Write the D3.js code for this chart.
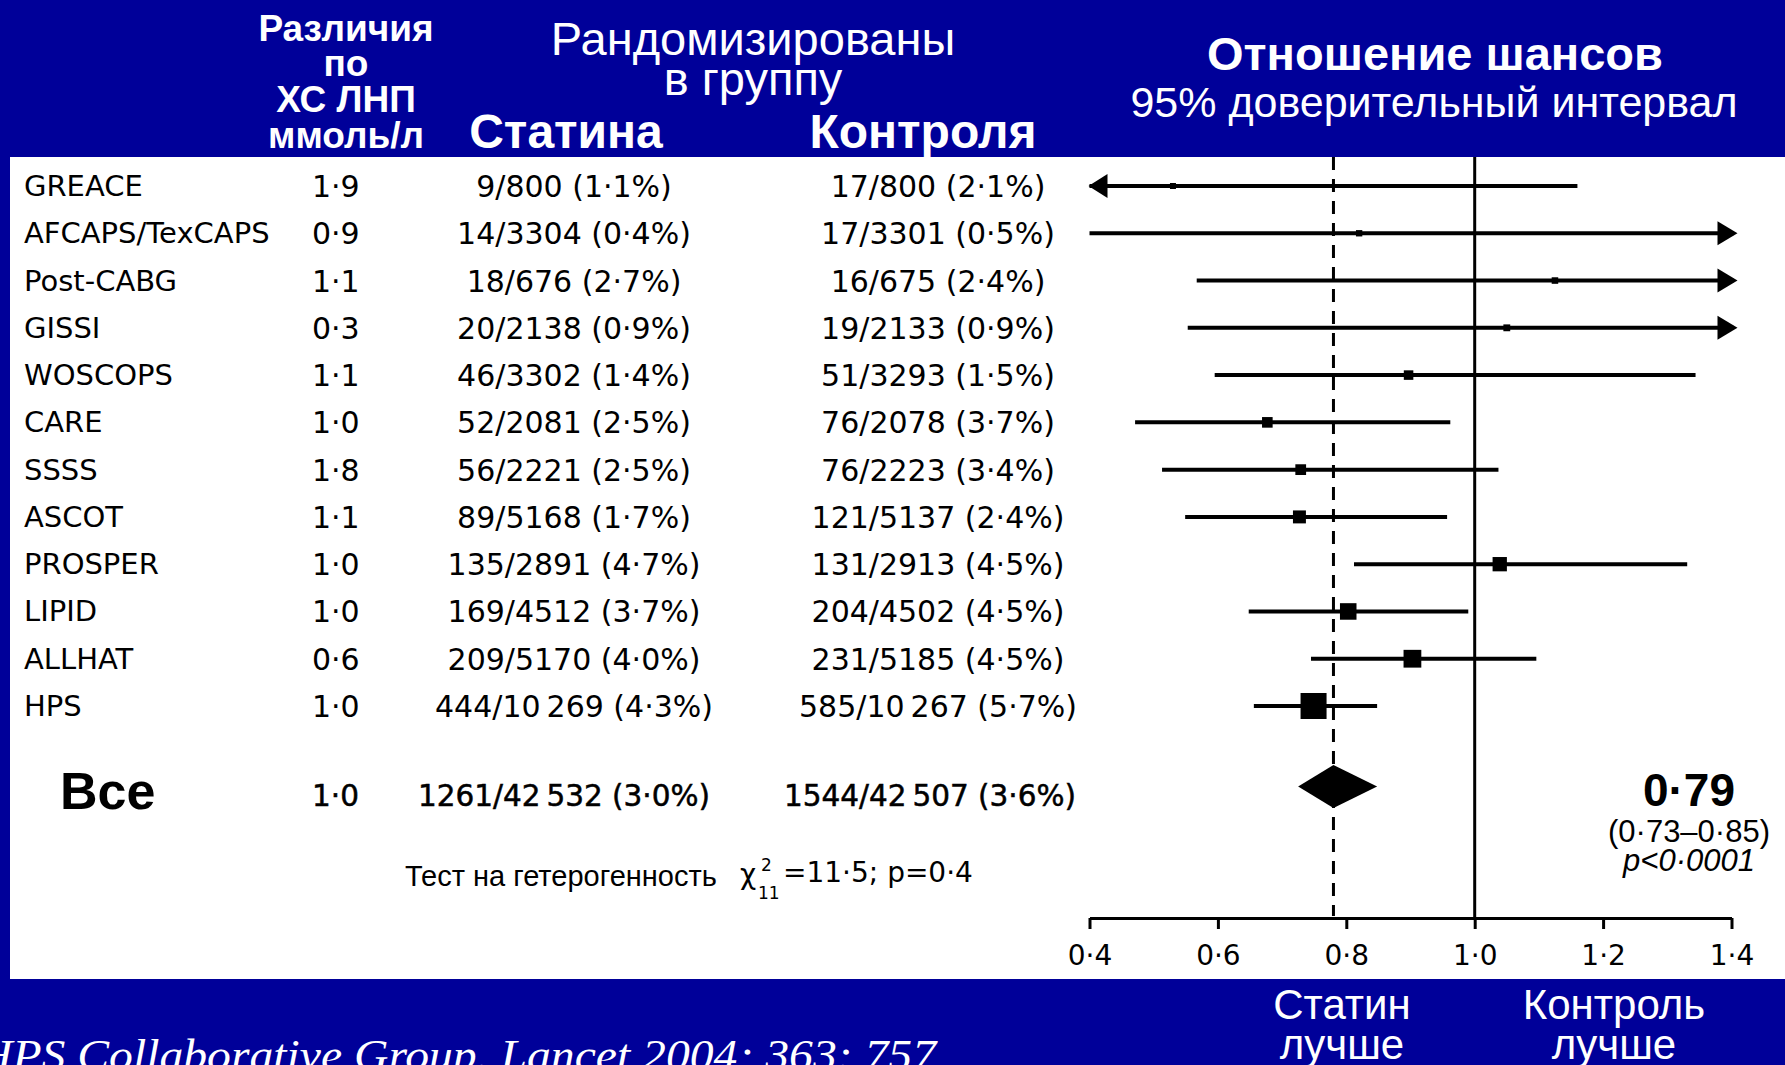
<!DOCTYPE html>
<html><head><meta charset="utf-8">
<script src="https://cdn.jsdelivr.net/npm/d3@7"></script>
<style>
html,body{margin:0;padding:0;background:#000099;}
svg{display:block;}
</style></head>
<body>
<svg id="chart" width="1785" height="1065"></svg>
<script>
// ---------------- data ----------------
const studies = ["GREACE","AFCAPS/TexCAPS","Post-CABG","GISSI","WOSCOPS","CARE","SSSS","ASCOT","PROSPER","LIPID","ALLHAT","HPS"];
const ldlDiff = [1.9,0.9,1.1,0.3,1.1,1.0,1.8,1.1,1.0,1.0,0.6,1.0];
const statinEvents = [9,14,18,20,46,52,56,89,135,169,209,444];
const statinTotal = [800,3304,676,2138,3302,2081,2221,5168,2891,4512,5170,10269];
const statinPct = [1.1,0.4,2.7,0.9,1.4,2.5,2.5,1.7,4.7,3.7,4.0,4.3];
const controlEvents = [17,17,16,19,51,76,76,121,131,204,231,585];
const controlTotal = [800,3301,675,2133,3293,2078,2223,5137,2913,4502,5185,10267];
const controlPct = [2.1,0.5,2.4,0.9,1.5,3.7,3.4,2.4,4.5,4.5,4.5,5.7];
const oddsRatio = [0.53,0.82,1.125,1.05,0.897,0.677,0.729,0.727,1.039,0.803,0.903,0.749];
const ciLow =  [0.25,0.40,0.567,0.553,0.595,0.471,0.513,0.549,0.812,0.648,0.745,0.656];
const ciHigh = [1.16,1.66,2.20,2.00,1.344,0.962,1.037,0.957,1.331,0.990,1.096,0.848];

const totalLabel = "Все";
const totalLdl = 1.0;
const totalStatin = [1261, 42532, 3.0];
const totalControl = [1544, 42507, 3.6];
const pooledOR = 0.78, pooledLow = 0.725, pooledHigh = 0.848;
const pooledText = ["0·79", "(0·73–0·85)", "p<0·0001"];

const axisTicks = [0.4,0.6,0.8,1.0,1.2,1.4];
const axisDomain = [0.4,1.4];

// ---------------- helpers ----------------
const BLUE = "#000099";
const dec = v => d3.format(".1f")(v).replace(".", "·");
const big = n => n >= 10000 ? String(n).slice(0, -3) + "\u2009" + String(n).slice(-3) : String(n);
const cell = (e, n, p) => `${big(e)}/${big(n)} (${dec(p)}%)`;

const svg = d3.select("#chart");
svg.append("rect").attr("width",1785).attr("height",1065).attr("fill",BLUE);
svg.append("rect").attr("x",10).attr("y",157).attr("width",1775).attr("height",822).attr("fill","#fff");

// scales
const x = d3.scaleLinear().domain(axisDomain).range([1089.5, 1731.5]);
const y = d3.scalePoint().domain(studies).range([186, 706]);
const yTotal = 786.5;
const panelTop = 157, axisY = 918;
const totals = studies.map((s,i) => statinEvents[i] + controlEvents[i]);
const size = d3.scaleSqrt().domain(d3.extent(totals)).range([6, 26]);

// ---------------- header ----------------
const hdr = svg.append("g").attr("fill","#fff");
const htext = (t, cx, by, fs, w, fam) => hdr.append("text").attr("x",cx).attr("y",by)
  .attr("text-anchor","middle").attr("font-size",fs).attr("font-weight",w||"normal")
  .attr("font-family", fam || "'Liberation Sans', Arial, sans-serif").text(t);
htext("Различия", 346, 41, 37, "bold");
htext("по", 346, 76, 37, "bold");
htext("ХС ЛНП", 346, 112, 37, "bold");
htext("ммоль/л", 346, 148, 37, "bold");
htext("Рандомизированы", 753, 55, 47);
htext("в группу", 753, 95, 47);
htext("Статина", 566, 148, 48, "bold");
htext("Контроля", 923, 148, 48, "bold");
htext("Отношение шансов", 1435, 70, 47, "bold");
htext("95% доверительный интервал", 1434, 117, 43);

// footer
htext("Статин", 1342, 1019, 42);
htext("лучше", 1342, 1059, 42);
htext("Контроль", 1614, 1019, 42);
htext("лучше", 1614, 1059, 42);
hdr.append("text").attr("x",-22).attr("y",1070)
  .attr("font-family","'Liberation Serif', 'Times New Roman', serif").attr("font-style","italic")
  .attr("font-size",44).attr("textLength",958).attr("lengthAdjust","spacingAndGlyphs")
  .text("HPS Collaborative Group. Lancet 2004; 363: 757");

// ---------------- table ----------------
const tbl = svg.append("g").attr("fill","#000").attr("font-family","'DejaVu Sans', sans-serif");
const rows = tbl.selectAll("g.row").data(studies).join("g").attr("class","row");
rows.append("text").attr("x",24).attr("y",d => y(d)+10).attr("font-size",29).text(d => d);
rows.append("text").attr("x",312).attr("y",d => y(d)+11).attr("font-size",30).text((d,i) => dec(ldlDiff[i]));
rows.append("text").attr("x",574).attr("y",d => y(d)+11).attr("font-size",30).attr("text-anchor","middle")
  .text((d,i) => cell(statinEvents[i], statinTotal[i], statinPct[i]));
rows.append("text").attr("x",938).attr("y",d => y(d)+11).attr("font-size",30).attr("text-anchor","middle")
  .text((d,i) => cell(controlEvents[i], controlTotal[i], controlPct[i]));

// total row
svg.append("text").attr("x",60).attr("y",yTotal+22).attr("font-family","'Liberation Sans', Arial, sans-serif")
  .attr("font-weight","bold").attr("font-size",52).text(totalLabel);
const tot = tbl.append("g").attr("stroke","#000").attr("stroke-width",0.5).attr("font-size",29.5);
tot.append("text").attr("x",312).attr("y",yTotal+19).text(dec(totalLdl));
tot.append("text").attr("x",564).attr("y",yTotal+19).attr("text-anchor","middle").text(cell(...totalStatin));
tot.append("text").attr("x",930).attr("y",yTotal+19).attr("text-anchor","middle").text(cell(...totalControl));

// heterogeneity
const het = svg.append("g").attr("fill","#000");
het.append("text").attr("x",405).attr("y",886).attr("font-family","'Liberation Sans', Arial, sans-serif")
  .attr("font-size",29).text("Тест на гетерогенность");
het.append("text").attr("x",740).attr("y",884).attr("font-family","'DejaVu Sans', sans-serif").attr("font-size",28).text("χ");
het.append("text").attr("x",761).attr("y",871).attr("font-family","'DejaVu Sans', sans-serif").attr("font-size",17).text("2");
het.append("text").attr("x",758).attr("y",899).attr("font-family","'DejaVu Sans', sans-serif").attr("font-size",17).text("11");
het.append("text").attr("x",783).attr("y",882).attr("font-family","'DejaVu Sans', sans-serif").attr("font-size",28).text("=11·5; p=0·4");

// ---------------- plot ----------------
const plot = svg.append("g");
plot.append("line").attr("x1",x(1.0)).attr("x2",x(1.0)).attr("y1",panelTop).attr("y2",axisY)
  .attr("stroke","#000").attr("stroke-width",3);
plot.append("line").attr("x1",x(pooledOR)).attr("x2",x(pooledOR)).attr("y1",panelTop).attr("y2",axisY-2)
  .attr("stroke","#000").attr("stroke-width",3).attr("stroke-dasharray","13,9");

const ci = plot.selectAll("g.ci").data(studies).join("g").attr("class","ci");
const [dMin, dMax] = axisDomain;
ci.append("line")
  .attr("x1",(d,i) => x(Math.max(ciLow[i], dMin)))
  .attr("x2",(d,i) => ciHigh[i] > dMax ? x(dMax) + 2 : x(ciHigh[i]))
  .attr("y1",d => y(d)).attr("y2",d => y(d))
  .attr("stroke","#000").attr("stroke-width",4);
ci.filter((d,i) => ciHigh[i] > dMax).append("path")
  .attr("d", d => { const t = x(dMax)+6, yy = y(d); return `M${t},${yy}L${t-20},${yy-12}L${t-20},${yy+12}Z`; })
  .attr("fill","#000");
ci.filter((d,i) => ciLow[i] < dMin).append("path")
  .attr("d", d => { const t = x(dMin)-1, yy = y(d); return `M${t},${yy}L${t+19},${yy-12}L${t+19},${yy+12}Z`; })
  .attr("fill","#000");
ci.append("rect")
  .attr("x",(d,i) => x(oddsRatio[i]) - size(totals[i])/2)
  .attr("y",(d,i) => y(d) - size(totals[i])/2)
  .attr("width",(d,i) => size(totals[i]))
  .attr("height",(d,i) => size(totals[i]))
  .attr("fill","#000");

plot.append("path")
  .attr("d", `M${x(pooledLow)},${yTotal}L${x(pooledOR)},${yTotal-21.5}L${x(pooledHigh)},${yTotal}L${x(pooledOR)},${yTotal+21.5}Z`)
  .attr("fill","#000");

const pt = svg.append("g").attr("fill","#000").attr("text-anchor","middle").attr("font-family","'Liberation Sans', Arial, sans-serif");
pt.append("text").attr("x",1689).attr("y",806).attr("font-size",46).attr("font-weight","bold").text(pooledText[0]);
pt.append("text").attr("x",1689).attr("y",842).attr("font-size",31).text(pooledText[1]);
pt.append("text").attr("x",1689).attr("y",871).attr("font-size",31).attr("font-style","italic").text(pooledText[2]);

const axis = d3.axisBottom(x).tickValues(axisTicks).tickSize(11).tickSizeOuter(0).tickPadding(16)
  .tickFormat(d => dec(d));
const ag = svg.append("g").attr("transform",`translate(0,${axisY})`).call(axis);
ag.select(".domain").attr("stroke","#000").attr("stroke-width",3);
ag.selectAll(".tick line").attr("stroke","#000").attr("stroke-width",3);
ag.selectAll(".tick text").attr("fill","#000").attr("font-size",28).attr("font-family","'DejaVu Sans', sans-serif");
</script>
</body></html>
